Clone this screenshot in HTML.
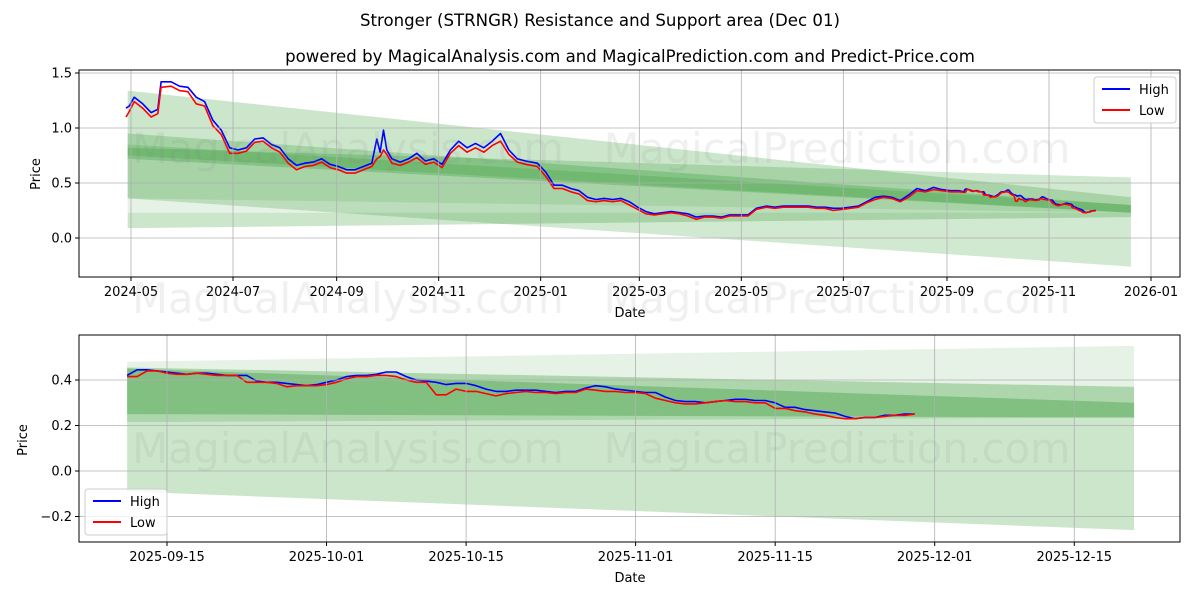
<!DOCTYPE html>
<html><head><meta charset="utf-8"><style>
html,body{margin:0;padding:0;background:#fff}
svg{display:block;font-family:"DejaVu Sans","Liberation Sans",sans-serif}
</style></head><body>
<svg id="c" width="1200" height="600" viewBox="0 0 1200 600" xmlns="http://www.w3.org/2000/svg">
<text x="600" y="26" text-anchor="middle" font-size="16.6">Stronger (STRNGR) Resistance and Support area (Dec 01)</text>
<text x="630" y="62" text-anchor="middle" font-size="16.6">powered by MagicalAnalysis.com and MagicalPrediction.com and Predict-Price.com</text>
<g id="top"></g>
<g id="bot"></g>
</svg>
<script>
const topDates=["2024-04-28","2024-04-30","2024-05-03","2024-05-08","2024-05-13","2024-05-17","2024-05-19","2024-05-25","2024-05-30","2024-06-04","2024-06-09","2024-06-14","2024-06-19","2024-06-24","2024-06-29","2024-07-04","2024-07-09","2024-07-14","2024-07-19","2024-07-24","2024-07-29","2024-08-03","2024-08-08","2024-08-13","2024-08-18","2024-08-23","2024-08-28","2024-09-02","2024-09-07","2024-09-12","2024-09-17","2024-09-22","2024-09-25","2024-09-27","2024-09-29","2024-10-01","2024-10-04","2024-10-09","2024-10-14","2024-10-19","2024-10-24","2024-10-29","2024-11-03","2024-11-08","2024-11-13","2024-11-18","2024-11-23","2024-11-28","2024-12-03","2024-12-08","2024-12-13","2024-12-18","2024-12-23","2024-12-30","2025-01-04","2025-01-09","2025-01-14","2025-01-19","2025-01-24","2025-01-29","2025-02-03","2025-02-08","2025-02-13","2025-02-18","2025-02-23","2025-02-28","2025-03-05","2025-03-10","2025-03-15","2025-03-20","2025-03-25","2025-03-30","2025-04-04","2025-04-09","2025-04-14","2025-04-19","2025-04-24","2025-04-29","2025-05-05","2025-05-10","2025-05-16","2025-05-21","2025-05-26","2025-05-31","2025-06-05","2025-06-10","2025-06-15","2025-06-20","2025-06-25","2025-06-30","2025-07-05","2025-07-10","2025-07-15","2025-07-20","2025-07-25","2025-07-30","2025-08-04","2025-08-09","2025-08-14","2025-08-19","2025-08-24","2025-08-29","2025-09-03","2025-09-08"];
const topHigh=[1.18,1.20,1.28,1.22,1.14,1.17,1.42,1.42,1.38,1.37,1.28,1.24,1.07,0.98,0.82,0.80,0.82,0.90,0.91,0.85,0.82,0.72,0.66,0.68,0.69,0.72,0.67,0.65,0.62,0.62,0.65,0.68,0.90,0.78,0.98,0.80,0.72,0.69,0.72,0.77,0.70,0.72,0.67,0.80,0.88,0.82,0.86,0.82,0.88,0.95,0.80,0.72,0.70,0.68,0.60,0.48,0.48,0.45,0.43,0.37,0.35,0.36,0.35,0.36,0.33,0.28,0.24,0.22,0.23,0.24,0.23,0.22,0.19,0.20,0.20,0.19,0.21,0.21,0.21,0.27,0.29,0.28,0.29,0.29,0.29,0.29,0.28,0.28,0.27,0.27,0.28,0.29,0.33,0.37,0.38,0.37,0.34,0.39,0.45,0.43,0.46,0.44,0.43,0.43];
const topLow=[1.10,1.15,1.24,1.18,1.10,1.13,1.37,1.38,1.34,1.33,1.22,1.20,1.02,0.94,0.77,0.77,0.79,0.87,0.88,0.82,0.78,0.68,0.62,0.65,0.66,0.69,0.64,0.62,0.59,0.59,0.62,0.65,0.72,0.74,0.80,0.76,0.68,0.66,0.69,0.73,0.67,0.69,0.64,0.77,0.84,0.78,0.82,0.78,0.84,0.88,0.76,0.69,0.67,0.65,0.56,0.45,0.45,0.42,0.40,0.34,0.33,0.34,0.33,0.34,0.30,0.26,0.22,0.21,0.22,0.23,0.22,0.20,0.17,0.19,0.19,0.18,0.20,0.20,0.20,0.26,0.28,0.27,0.28,0.28,0.28,0.28,0.27,0.27,0.25,0.26,0.27,0.28,0.32,0.35,0.37,0.36,0.33,0.37,0.43,0.42,0.44,0.43,0.42,0.42];
const botStart="2025-09-11";
const botHigh=[0.42,0.445,0.445,0.44,0.435,0.43,0.425,0.43,0.43,0.425,0.42,0.42,0.42,0.395,0.39,0.39,0.385,0.38,0.375,0.38,
0.39,0.40,0.415,0.42,0.42,0.425,0.435,0.435,0.415,0.40,0.395,0.39,0.38,0.385,0.385,0.375,0.36,0.35,0.35,0.355,0.355,0.355,0.35,0.345,0.35,0.35,0.365,0.375,0.37,0.36,0.355,
0.35,0.345,0.345,0.325,0.31,0.305,0.305,0.30,0.305,0.31,0.315,0.315,0.31,0.31,0.30,0.28,0.28,0.27,0.265,0.26,0.255,0.24,0.23,0.235,0.235,0.245,0.245,0.25,0.25];
const botLow=[0.415,0.415,0.44,0.44,0.43,0.425,0.425,0.43,0.425,0.42,0.42,0.42,0.39,0.39,0.39,0.385,0.37,0.375,0.375,0.375,
0.38,0.39,0.405,0.415,0.415,0.42,0.42,0.415,0.40,0.39,0.39,0.335,0.335,0.36,0.35,0.35,0.34,0.33,0.34,0.345,0.35,0.345,0.345,0.34,0.345,0.345,0.36,0.355,0.35,0.35,0.345,
0.345,0.34,0.32,0.31,0.30,0.295,0.295,0.30,0.305,0.31,0.305,0.305,0.30,0.30,0.275,0.275,0.265,0.26,0.25,0.245,0.235,0.23,0.23,0.235,0.235,0.24,0.245,0.245,0.25];
// bands: [startLo,startHi,endLo,endHi,opacity]
const topBandStart="2024-04-29", topBandEnd="2025-12-20";
const topBands=[[0.36,1.34,0.23,0.37,0.2],[0.09,0.23,0.19,0.23,0.2],[0.23,0.36,0.23,0.23,0.1],[0.36,0.82,-0.26,0.55,0.18],[0.72,0.95,0.23,0.30,0.2],[0.75,0.85,0.23,0.30,0.15]];
const botBandStart="2025-09-11", botBandEnd="2025-12-21";
const botBands=[[0.455,0.48,0.37,0.55,0.1],[-0.09,0.455,-0.26,0.37,0.2],[0.215,0.455,0.235,0.37,0.15],[0.25,0.45,0.235,0.30,0.25]];
const topYTicks=[1.5,1.0,0.5,0.0];
const topXTicks=["2024-05","2024-07","2024-09","2024-11","2025-01","2025-03","2025-05","2025-07","2025-09","2025-11","2026-01"];
const botYTicks=[0.4,0.2,0.0,-0.2];
const botXTicks=["2025-09-15","2025-10-01","2025-10-15","2025-11-01","2025-11-15","2025-12-01","2025-12-15"];

const NS="http://www.w3.org/2000/svg";
const D=s=>{const p=s.split("-").map(Number);return Date.UTC(p[0],p[1]-1,p[2]||1)/864e5;};
function mk(par,tag,at,txt){const e=document.createElementNS(NS,tag);for(const k in at)e.setAttribute(k,at[k]);if(txt!==undefined)e.textContent=txt;par.appendChild(e);return e;}
function panel(g,L,R,T,B,d0,d1,v0,v1,yT,yFmt,xT,bands,bs,be,series,legendPos){
  const X=d=>L+(d-d0)/(d1-d0)*(R-L), Y=v=>T+(v1-v)/(v1-v0)*(B-T);
  const cp="clip"+T;
  const defs=mk(g,"defs",{});const c=mk(defs,"clipPath",{id:cp});mk(c,"rect",{x:L,y:T,width:R-L,height:B-T});
  const bg=mk(g,"g",{"clip-path":`url(#${cp})`});
  bands.forEach(b=>{const xa=X(D(bs)),xb=X(D(be));
    const p=mk(bg,"polygon",{points:`${xa},${Y(b[0])} ${xa},${Y(b[1])} ${xb},${Y(b[3])} ${xb},${Y(b[2])}`,fill:"#008000","fill-opacity":b[4]});
    
    });
  yT.forEach(v=>{mk(g,"line",{x1:L,x2:R,y1:Y(v),y2:Y(v),stroke:"#b0b0b0","stroke-width":0.8});
    mk(g,"line",{x1:L-4,x2:L,y1:Y(v),y2:Y(v),stroke:"#000"});
    const t=mk(g,"text",{x:L-7,y:Y(v)+4.5,"text-anchor":"end","font-size":13},yFmt(v));
    });
  xT.forEach(s=>{const x=X(D(s));mk(g,"line",{x1:x,x2:x,y1:T,y2:B,stroke:"#b0b0b0","stroke-width":0.8});
    mk(g,"line",{x1:x,x2:x,y1:B,y2:B+4,stroke:"#000"});
    const t=mk(g,"text",{x:x,y:B+19,"text-anchor":"middle","font-size":13},s);
    });
  series.forEach(s=>{const pts=s.d.map(p=>`${X(p[0]).toFixed(1)},${Y(p[1]).toFixed(1)}`).join(" ");
    const l=mk(bg,"polyline",{points:pts,fill:"none",stroke:s.c,"stroke-width":1.6,"stroke-linejoin":"round"});
    });
  mk(g,"rect",{x:L,y:T,width:R-L,height:B-T,fill:"none",stroke:"#000","stroke-width":1});
  const lx=legendPos[0],ly=legendPos[1];
  const lg=mk(g,"g",{});
  mk(lg,"rect",{x:lx,y:ly,width:82,height:46,rx:3,fill:"#fff","fill-opacity":0.8,stroke:"#ccc"});
  [["High","#0000ff"],["Low","#ff0000"]].forEach((e,i)=>{mk(lg,"line",{x1:lx+8,x2:lx+36,y1:ly+12+i*21,y2:ly+12+i*21,stroke:e[1],"stroke-width":2});
    mk(lg,"text",{x:lx+45,y:ly+17+i*21,"font-size":13},e[0]);});
  return {X,Y};
}
const botDays=botHigh.map((_,i)=>D(botStart)+i);
const allHighT=topDates.map((s,i)=>[D(s),topHigh[i]]).concat(botDays.map((d,i)=>[d,botHigh[i]]));
const allLowT=topDates.map((s,i)=>[D(s),topLow[i]]).concat(botDays.map((d,i)=>[d,botLow[i]]));
const fmt1=v=>v.toFixed(1), fmt2=v=>(v<0?"\u2212":"")+Math.abs(v).toFixed(1);
const tg=document.getElementById("top"), bgp=document.getElementById("bot");
// top: 2024-05-01 at 131, 2026-01-01 at 1151
const pxDay=1020/610;
panel(tg,79,1180,70,277,D("2024-05-01")-(131-79)/pxDay,D("2024-05-01")+(1180-131)/pxDay,(238-277)/110,(238-70)/110,topYTicks,fmt1,topXTicks,topBands,topBandStart,topBandEnd,
 [{d:allHighT,c:"#0000ff",n:"high"},{d:allLowT,c:"#ff0000",n:"low"}],[1094,77]);
panel(bgp,79,1180,335,542,D("2025-09-15")-(167-79)/9.97,D("2025-09-15")+(1180-167)/9.97,(471-542)/227.5,(471-335)/227.5,botYTicks,fmt2,botXTicks,botBands,botBandStart,botBandEnd,
 [{d:botDays.map((d,i)=>[d,botHigh[i]]),c:"#0000ff",n:"high"},{d:botDays.map((d,i)=>[d,botLow[i]]),c:"#ff0000",n:"low"}],[85,489]);
const svg=document.getElementById("c");
[["Price",40,174],["Price",27,440]].forEach(a=>{const t=mk(svg,"text",{x:a[1],y:a[2],"text-anchor":"middle","font-size":13,transform:`rotate(-90 ${a[1]} ${a[2]})`},a[0]);
 });
[["Date",630,317],["Date",630,582]].forEach(a=>{const t=mk(svg,"text",{x:a[1],y:a[2],"text-anchor":"middle","font-size":13},a[0]);
 });
[["MagicalAnalysis.com",348,163],["MagicalPrediction.com",837,163],["MagicalAnalysis.com",348,313],["MagicalPrediction.com",837,313],["MagicalAnalysis.com",348,463],["MagicalPrediction.com",837,463]].forEach(a=>{
 const t=mk(svg,"text",{x:a[1],y:a[2],"text-anchor":"middle","font-size":41.5,fill:"#808080","fill-opacity":0.12},a[0]);
 });
</script>
</body></html>
